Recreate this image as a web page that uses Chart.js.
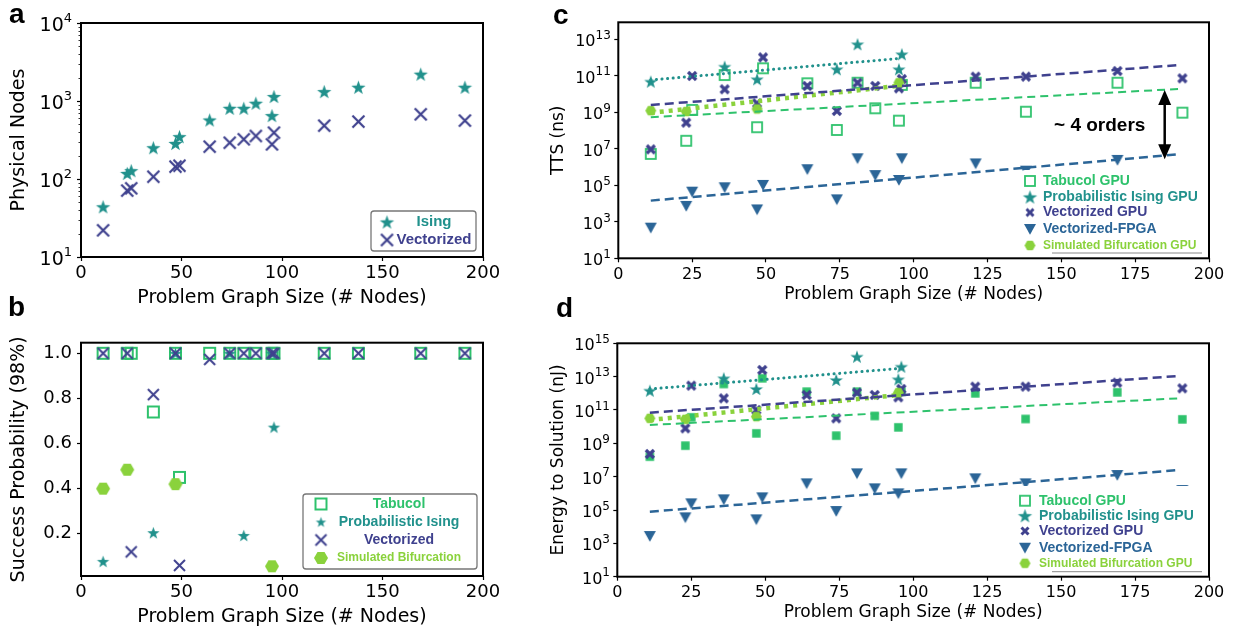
<!DOCTYPE html>
<html>
<head>
<meta charset="utf-8">
<title>Graph size benchmarks</title>
<script src="https://cdn.jsdelivr.net/npm/chart.js@4.4.1/dist/chart.umd.min.js"></script>
<style>
  html, body { margin: 0; padding: 0; background: #fff; }
  #painel { position: relative; width: 1234px; height: 630px; overflow: hidden; }
  #painel canvas { position: absolute; }
  .letra { position: absolute; font: bold 28px "Liberation Sans", Arial, sans-serif; line-height: 1; color: #000; }
</style>
</head>
<body>
<div id="painel">
  <canvas id="graficoA" width="540" height="310" style="left:0;top:0"></canvas>
  <canvas id="graficoB" width="540" height="320" style="left:0;top:310px"></canvas>
  <canvas id="graficoC" width="694" height="310" style="left:540px;top:0"></canvas>
  <canvas id="graficoD" width="694" height="320" style="left:540px;top:310px"></canvas>
  <div class="letra" style="left:9px;top:0px">a</div>
  <div class="letra" style="left:8px;top:293px">b</div>
  <div class="letra" style="left:553px;top:1px">c</div>
  <div class="letra" style="left:556px;top:294px">d</div>
</div>
<script>
// tamanhos de grafo (# nos) usados nos testes
const nos = [11, 23, 25, 36, 47, 49, 64, 74, 81, 87, 95, 96, 121, 138, 169, 191];
const nosIsing = [11, 36, 47, 74, 81, 95, 96];
const nosSB = [11, 23, 47, 95];
const nosAjuste = [11, 190];
const nosAjusteIsing = [11, 96];
const nosAjusteSB = [11, 95];

// (a) nos fisicos
const fisicosIsing = [44, 118, 128, 252, 286, 349, 571, 807, 807, 936, 650, 1141, 1321, 1503, 2207, 1503];
const fisicosVetor = [22, 71, 76, 107, 144, 148, 260, 292, 323, 356, 278, 393, 483, 544, 676, 561];

// (b) probabilidade de sucesso
const sucessoTabucol = [1, 1, 1, 0.74, 1, 0.45, 1, 1, 1, 1, 1, 1, 1, 1, 1, 1];
const sucessoVetor = [1, 1, 0.12, 0.817, 1, 0.06, 0.973, 1, 1, 1, 1, 1, 1, 1, 1, 1];
const sucessoIsing = [0.078, 0.205, 1, 1, 0.193, 1, 0.673];
const sucessoSB = [0.40, 0.484, 0.42, 0.056];

// (c) TTS em ns, guardado como log10
const log10TtsTabucol = [6.72, 7.44, 9.13, 11.04, 8.18, 11.41, 10.59, 8.03, 10.62, 9.22, 8.54, 10.5, 10.62, 9.03, 10.62, 8.98];
const log10TtsVetor = [6.97, 8.43, 10.99, 10.26, 9.49, 12.01, 10.44, 9.07, 10.62, 10.44, 10.31, 10.82, 10.95, 10.95, 11.26, 10.86];
const log10TtsFpga = [2.68, 3.87, 4.65, 4.89, 3.68, 5.02, 5.88, 4.23, 6.48, 5.56, 5.29, 6.48, 6.2, 5.8, 6.39, 5.3];
const log10TtsIsing = [10.68, 11.5, 10.81, 11.36, 12.73, 11.36, 12.18];
const log10TtsSB = [9.09, 9.04, 9.18, 10.62];
const ajusteTtsTabucol = [8.73, 10.28];
const ajusteTtsVetor = [9.40, 11.59];
const ajusteTtsFpga = [4.16, 6.70];
const ajusteTtsIsing = [10.77, 11.96];
const ajusteTtsSB = [8.97, 10.45];

// (d) energia ate a solucao em nJ, log10
const log10EnergiaTabucol = [8.2, 8.86, 10.56, 12.56, 9.6, 12.9, 12.1, 9.46, 12.1, 10.64, 9.96, 12.1, 12.0, 10.46, 12.06, 10.44];
const log10EnergiaVetor = [8.36, 9.9, 12.46, 11.7, 11.0, 13.4, 11.9, 10.5, 12.04, 11.9, 11.76, 12.26, 12.4, 12.4, 12.64, 12.3];
const log10EnergiaFpga = [3.44, 4.56, 5.4, 5.64, 4.44, 5.76, 6.6, 4.94, 7.2, 6.3, 6.0, 7.2, 6.9, 6.6, 7.1, 6.2];
const log10EnergiaIsing = [12.16, 12.9, 12.26, 12.8, 14.2, 12.84, 13.6];
const log10EnergiaSB = [10.5, 10.44, 10.6, 12.04];
const ajusteEnergiaTabucol = [10.10, 11.70];
const ajusteEnergiaVetor = [10.84, 13.04];
const ajusteEnergiaFpga = [4.90, 7.40];
const ajusteEnergiaIsing = [12.26, 13.50];
const ajusteEnergiaSB = [10.40, 11.90];

// marcas dos eixos
const marcasFisicos = [1e1, 1e2, 1e3, 1e4];
const marcasSucesso = [0.2, 0.4, 0.6, 0.8, 1.0];
const marcasTts = [1e1, 1e3, 1e5, 1e7, 1e9, 1e11, 1e13];
const marcasEnergia = [1e1, 1e3, 1e5, 1e7, 1e9, 1e11, 1e13, 1e15];

const rotulosA = ['Ising', 'Vectorized'];
const rotulosB = ['Tabucol', 'Probabilistic Ising', 'Vectorized', 'Simulated Bifurcation'];
const rotulosCD = ['Tabucol GPU', 'Probabilistic Ising GPU', 'Vectorized GPU', 'Vectorized-FPGA', 'Simulated Bifurcation GPU'];

const corTabucol = '#2ec26c';
const corIsing = '#21918c';
const corVetor = '#3f418e';
const corFpga = '#2b6597';
const corSB = '#8ad23c';
const fonteEixo = '"DejaVu Sans"';
const fonteLegenda = '"Liberation Sans", Arial, sans-serif';

window.onload = function () {
    Chart.defaults.animation = false;
    Chart.defaults.events = [];
    gerarGraficoFisicos();
    gerarGraficoSucesso();
    gerarGraficoTts();
    gerarGraficoEnergia();
};

function pontos(xs, ys) {
    return xs.map((x, i) => ({ x: x, y: ys[i] }));
}
function pontosLog(xs, expoentes) {
    return xs.map((x, i) => ({ x: x, y: Math.pow(10, expoentes[i]) }));
}

// desenha o marcador num canvas pequeno, usado como pointStyle
function marcador(forma, tam, cor, cheio, lw) {
    lw = lw || 1.5;
    let lado = Math.ceil(tam + lw + 2);
    let c = document.createElement('canvas');
    c.width = lado;
    c.height = lado;
    let ctx = c.getContext('2d');
    ctx.translate(lado / 2, lado / 2);
    ctx.fillStyle = cor;
    ctx.strokeStyle = cor;
    ctx.lineWidth = lw;
    let r = tam / 2;
    ctx.beginPath();
    if (forma === 'estrela') {
        for (let i = 0; i < 10; i++) {
            let raio = i % 2 === 0 ? r : r * 0.4;
            let ang = -Math.PI / 2 + i * Math.PI / 5;
            ctx.lineTo(raio * Math.cos(ang), raio * Math.sin(ang) + r * 0.1);
        }
        ctx.closePath();
        ctx.fill();
    } else if (forma === 'x') {
        ctx.moveTo(-r, -r); ctx.lineTo(r, r);
        ctx.moveTo(r, -r); ctx.lineTo(-r, r);
        ctx.stroke();
    } else if (forma === 'quadrado') {
        if (cheio) ctx.fillRect(-r, -r, tam, tam);
        else ctx.strokeRect(-r, -r, tam, tam);
    } else if (forma === 'triangulo') {
        ctx.moveTo(-r, -r * 0.85);
        ctx.lineTo(r, -r * 0.85);
        ctx.lineTo(0, r * 0.95);
        ctx.closePath();
        ctx.fill();
    } else if (forma === 'hexagono') {
        for (let i = 0; i < 6; i++) {
            let ang = i * Math.PI / 3;
            ctx.lineTo(r * Math.cos(ang), r * Math.sin(ang));
        }
        ctx.closePath();
        ctx.fill();
    }
    return c;
}

function serie(rotulo, dados, simbolo, ordem) {
    return {
        label: rotulo,
        data: dados,
        pointStyle: simbolo,
        pointRadius: 5,
        showLine: false,
        order: ordem
    };
}
function ajuste(dados, cor, largura, tracejado, ponta) {
    return {
        data: dados,
        showLine: true,
        pointRadius: 0,
        borderColor: cor,
        borderWidth: largura,
        borderDash: tracejado,
        borderCapStyle: ponta || 'butt',
        fill: false,
        order: 0
    };
}

function eixoX(altura, passo, tamFonte, tamTitulo, padTick, padTitulo) {
    return {
        type: 'linear', position: 'bottom', min: 0, max: 200,
        afterFit: function (escala) { escala.height = altura; },
        ticks: {
            stepSize: passo, color: '#000', padding: padTick, maxRotation: 0, autoSkip: false,
            font: { family: fonteEixo, size: tamFonte }
        },
        grid: { drawOnChartArea: false, drawTicks: true, tickLength: 4, tickWidth: 1.2, tickColor: '#000' },
        border: { display: false },
        title: {
            display: true, text: 'Problem Graph Size (# Nodes)', color: '#000',
            font: { family: fonteEixo, size: tamTitulo }, padding: { top: 0, bottom: padTitulo }
        }
    };
}
function eixoY(tipo, largura, min, max, marcas, titulo, tamFonte, tamTitulo, padTick, padTitulo) {
    // no eixo log os rotulos 10^n sao desenhados pelo pluginRotulosLog
    let log = tipo === 'logarithmic';
    return {
        type: tipo, position: 'left', min: min, max: max,
        afterFit: function (escala) { escala.width = largura; },
        afterBuildTicks: function (escala) { escala.ticks = marcas.map(v => ({ value: v })); },
        ticks: {
            display: !log, color: '#000', padding: padTick, autoSkip: false,
            callback: v => v.toFixed(1),
            font: { family: fonteEixo, size: tamFonte }
        },
        grid: { drawOnChartArea: false, drawTicks: true, tickLength: 4, tickWidth: 1.2, tickColor: '#000' },
        border: { display: false },
        title: {
            display: true, text: titulo, color: '#000',
            font: { family: fonteEixo, size: tamTitulo }, padding: { top: padTitulo, bottom: 0 }
        }
    };
}

// rotulos 10^n com expoente sobrescrito
function pluginRotulosLog(marcas, tamBase, tamExp, recuo) {
    return {
        id: 'rotulosLog',
        afterDraw(chart) {
            let ctx = chart.ctx, y = chart.scales.y;
            let xDir = chart.chartArea.left - recuo;
            ctx.save();
            ctx.fillStyle = '#000';
            ctx.textAlign = 'right';
            ctx.textBaseline = 'alphabetic';
            for (let v of marcas) {
                let e = String(Math.round(Math.log10(v)));
                let base = y.getPixelForValue(v) + 0.37 * tamBase + 1;
                ctx.font = tamExp + 'px ' + fonteEixo;
                ctx.fillText(e, xDir, base - 0.45 * tamBase);
                let largExp = ctx.measureText(e).width;
                ctx.font = tamBase + 'px ' + fonteEixo;
                ctx.fillText('10', xDir - largExp, base);
            }
            ctx.restore();
        }
    };
}

// moldura preta em volta da area do grafico
const pluginMoldura = {
    id: 'moldura',
    afterDraw(chart) {
        let a = chart.chartArea;
        let ctx = chart.ctx;
        ctx.save();
        ctx.strokeStyle = '#000';
        ctx.lineWidth = 2;
        ctx.strokeRect(a.left, a.top, a.right - a.left, a.bottom - a.top);
        ctx.restore();
    }
};

// marcas menores do eixo log (so no painel a)
const pluginMarcasMenores = {
    id: 'marcasMenores',
    afterDraw(chart) {
        let y = chart.scales.y;
        let ctx = chart.ctx;
        ctx.save();
        ctx.strokeStyle = '#000';
        ctx.lineWidth = 0.8;
        for (let d = 1; d < 4; d++) {
            for (let m = 2; m < 10; m++) {
                let py = Math.round(y.getPixelForValue(m * Math.pow(10, d))) + 0.5;
                ctx.beginPath();
                ctx.moveTo(chart.chartArea.left - 2.5, py);
                ctx.lineTo(chart.chartArea.left, py);
                ctx.stroke();
            }
        }
        ctx.restore();
    }
};

function pluginLegenda(def) {
    return {
        id: 'legenda',
        afterDatasetsDraw(chart) {
            let ctx = chart.ctx;
            ctx.save();
            if (def.caixa) {
                let c = def.caixa;
                ctx.fillStyle = '#fff';
                ctx.beginPath();
                ctx.roundRect(c.x, c.y, c.w, c.h, 3);
                ctx.fill();
                if (c.borda) {
                    ctx.strokeStyle = c.borda;
                    ctx.lineWidth = 1.3;
                    ctx.stroke();
                }
            }
            if (def.linha) {
                ctx.strokeStyle = '#888';
                ctx.lineWidth = 1;
                ctx.beginPath();
                ctx.moveTo(def.linha.x1, def.linha.y);
                ctx.lineTo(def.linha.x2, def.linha.y);
                ctx.stroke();
            }
            ctx.textAlign = def.alinhamento;
            ctx.textBaseline = 'middle';
            for (let item of def.itens) {
                let m = item.marcador;
                ctx.drawImage(m, def.xMarcador - m.width / 2, item.y - m.height / 2);
                ctx.font = item.fonte;
                ctx.fillStyle = item.cor;
                ctx.fillText(item.texto, def.xTexto, item.y);
            }
            ctx.restore();
        }
    };
}

function gerarGraficoFisicos() {
    let estrela = marcador('estrela', 15, corIsing);
    let xis = marcador('x', 12, corVetor, false, 2.2);
    new Chart(document.getElementById('graficoA'), {
        type: 'scatter',
        data: {
            datasets: [
                serie(rotulosA[0], pontos(nos, fisicosIsing), estrela, 2),
                serie(rotulosA[1], pontos(nos, fisicosVetor), xis, 1)
            ]
        },
        options: {
            responsive: false,
            layout: { padding: { left: 0, top: 23, right: 57, bottom: 0 } },
            plugins: { legend: { display: false }, tooltip: { enabled: false } },
            scales: {
                x: eixoX(53, 50, 18, 19, 2, 1),
                y: eixoY('logarithmic', 81, 10, 10000, marcasFisicos, 'Physical Nodes', 18, 19, 5, 8)
            }
        },
        plugins: [pluginMarcasMenores, pluginRotulosLog(marcasFisicos, 19, 13, 9), pluginLegenda({
            caixa: { x: 371, y: 211, w: 105, h: 40, borda: '#777' },
            alinhamento: 'center', xMarcador: 387, xTexto: 434,
            itens: [
                { marcador: estrela, texto: rotulosA[0], cor: corIsing, y: 222, fonte: 'bold 15px ' + fonteLegenda },
                { marcador: xis, texto: rotulosA[1], cor: corVetor, y: 240, fonte: 'bold 15px ' + fonteLegenda }
            ]
        }), pluginMoldura]
    });
}

function gerarGraficoSucesso() {
    let quadrado = marcador('quadrado', 11, corTabucol, false, 2);
    let estrela = marcador('estrela', 13, corIsing);
    let xis = marcador('x', 11, corVetor, false, 2);
    let hexagono = marcador('hexagono', 14, corSB);
    new Chart(document.getElementById('graficoB'), {
        type: 'scatter',
        data: {
            datasets: [
                serie(rotulosB[0], pontos(nos, sucessoTabucol), quadrado, 4),
                serie(rotulosB[1], pontos(nosIsing, sucessoIsing), estrela, 3),
                serie(rotulosB[2], pontos(nos, sucessoVetor), xis, 2),
                serie(rotulosB[3], pontos(nosSB, sucessoSB), hexagono, 1)
            ]
        },
        options: {
            responsive: false,
            layout: { padding: { left: 0, top: 32.7, right: 57, bottom: 0 } },
            plugins: { legend: { display: false }, tooltip: { enabled: false } },
            scales: {
                x: eixoX(54, 50, 18, 19, 2, 2),
                y: eixoY('linear', 81, 0.013, 1.047, marcasSucesso, 'Success Probability (98%)', 18, 19, 5, 8)
            }
        },
        plugins: [pluginLegenda({
            caixa: { x: 303, y: 184, w: 174, h: 75, borda: '#777' },
            alinhamento: 'center', xMarcador: 321, xTexto: 399,
            itens: [
                { marcador: quadrado, texto: rotulosB[0], cor: corTabucol, y: 194, fonte: 'bold 14px ' + fonteLegenda },
                { marcador: marcador('estrela', 11, corIsing), texto: rotulosB[1], cor: corIsing, y: 212, fonte: 'bold 14px ' + fonteLegenda },
                { marcador: xis, texto: rotulosB[2], cor: corVetor, y: 230, fonte: 'bold 14px ' + fonteLegenda },
                { marcador: hexagono, texto: rotulosB[3], cor: corSB, y: 248, fonte: 'bold 12px ' + fonteLegenda }
            ]
        }), pluginMoldura]
    });
}

// seta dupla "~ 4 orders" entre os ajustes da GPU e da FPGA
const pluginOrdens = {
    id: 'ordens',
    afterDatasetsDraw(chart) {
        let ctx = chart.ctx, x = chart.scales.x, y = chart.scales.y;
        let px = x.getPixelForValue(185);
        let y1 = y.getPixelForValue(Math.pow(10, 10.22));
        let y2 = y.getPixelForValue(Math.pow(10, 6.42));
        let cabeca = 15, meia = 6.5;
        ctx.save();
        ctx.strokeStyle = '#000';
        ctx.fillStyle = '#000';
        ctx.lineWidth = 2.5;
        ctx.beginPath();
        ctx.moveTo(px, y1 + cabeca - 2);
        ctx.lineTo(px, y2 - cabeca + 2);
        ctx.stroke();
        ctx.beginPath();
        ctx.moveTo(px, y1);
        ctx.lineTo(px - meia, y1 + cabeca);
        ctx.lineTo(px + meia, y1 + cabeca);
        ctx.closePath();
        ctx.fill();
        ctx.beginPath();
        ctx.moveTo(px, y2);
        ctx.lineTo(px - meia, y2 - cabeca);
        ctx.lineTo(px + meia, y2 - cabeca);
        ctx.closePath();
        ctx.fill();
        ctx.font = 'bold 19px ' + fonteLegenda;
        ctx.textAlign = 'center';
        ctx.textBaseline = 'middle';
        ctx.fillText('~ 4 orders', x.getPixelForValue(163), y.getPixelForValue(Math.pow(10, 8.25)));
        ctx.restore();
    }
};

function datasetsGpu(rotulos, tabucol, ising, vetor, fpga, sb, ajustes, quadradoCheio) {
    let quadrado = marcador('quadrado', quadradoCheio ? 8.5 : 10, corTabucol, quadradoCheio, 1.8);
    let estrela = marcador('estrela', 14, corIsing);
    let xis = marcador('x', 8, corVetor, false, 3.2);
    let triangulo = marcador('triangulo', 12, corFpga);
    let hexagono = marcador('hexagono', 11, corSB);
    return [
        serie(rotulos[0], pontosLog(nos, tabucol), quadrado, 5),
        serie(rotulos[1], pontosLog(nosIsing, ising), estrela, 4),
        serie(rotulos[2], pontosLog(nos, vetor), xis, 3),
        serie(rotulos[3], pontosLog(nos, fpga), triangulo, 2),
        serie(rotulos[4], pontosLog(nosSB, sb), hexagono, 1),
        ajuste(pontosLog(nosAjuste, ajustes[0]), corTabucol, 2, [8, 5]),
        ajuste(pontosLog(nosAjuste, ajustes[1]), corVetor, 2.5, [9, 5]),
        ajuste(pontosLog(nosAjuste, ajustes[2]), corFpga, 2.5, [9, 5]),
        ajuste(pontosLog(nosAjusteIsing, ajustes[3]), corIsing, 3, [0.1, 5.5], 'round'),
        ajuste(pontosLog(nosAjusteSB, ajustes[4]), corSB, 4.5, [4, 5])
    ];
}

function legendaGpu(xMarcador, xTexto, ys, caixa, linha) {
    let cores = [corTabucol, corIsing, corVetor, corFpga, corSB];
    let marcas = [
        marcador('quadrado', 10, corTabucol, false, 1.8),
        marcador('estrela', 15, corIsing),
        marcador('x', 7, corVetor, false, 3),
        marcador('triangulo', 12, corFpga),
        marcador('hexagono', 11, corSB)
    ];
    return pluginLegenda({
        caixa: caixa, linha: linha, alinhamento: 'left', xMarcador: xMarcador, xTexto: xTexto,
        itens: rotulosCD.map((t, i) => ({
            marcador: marcas[i], texto: t, cor: cores[i], y: ys[i],
            fonte: 'bold ' + (i === 4 ? 12 : 14) + 'px ' + fonteLegenda
        }))
    });
}

function gerarGraficoTts() {
    new Chart(document.getElementById('graficoC'), {
        type: 'scatter',
        data: {
            datasets: datasetsGpu(rotulosCD, log10TtsTabucol, log10TtsIsing, log10TtsVetor, log10TtsFpga, log10TtsSB,
                [ajusteTtsTabucol, ajusteTtsVetor, ajusteTtsFpga, ajusteTtsIsing, ajusteTtsSB], false)
        },
        options: {
            responsive: false,
            layout: { padding: { left: 0, top: 22.3, right: 25, bottom: 0 } },
            plugins: { legend: { display: false }, tooltip: { enabled: false } },
            scales: {
                x: eixoX(51.7, 25, 16, 17, 3, 5),
                y: eixoY('logarithmic', 78.3, 10, 8.5e13, marcasTts, 'TTS (ns)', 16, 17, 4, 8)
            }
        },
        plugins: [pluginRotulosLog(marcasTts, 16, 12, 7.5), legendaGpu(490, 503, [181, 197, 212.5, 229, 245.5],
            { x: 482, y: 170, w: 185, h: 83 }, { x1: 512, x2: 662, y: 253 }), pluginOrdens, pluginMoldura]
    });
}

function gerarGraficoEnergia() {
    new Chart(document.getElementById('graficoD'), {
        type: 'scatter',
        data: {
            datasets: datasetsGpu(rotulosCD, log10EnergiaTabucol, log10EnergiaIsing, log10EnergiaVetor, log10EnergiaFpga, log10EnergiaSB,
                [ajusteEnergiaTabucol, ajusteEnergiaVetor, ajusteEnergiaFpga, ajusteEnergiaIsing, ajusteEnergiaSB], true)
        },
        options: {
            responsive: false,
            layout: { padding: { left: 0, top: 33.3, right: 25, bottom: 0 } },
            plugins: { legend: { display: false }, tooltip: { enabled: false } },
            scales: {
                x: eixoX(53.3, 25, 16, 17, 3, 7),
                y: eixoY('logarithmic', 77.3, 10, 1e15, marcasEnergia, 'Energy to Solution (nJ)', 16, 17, 4, 8.3)
            }
        },
        plugins: [pluginRotulosLog(marcasEnergia, 16, 12, 7.3), legendaGpu(485, 499, [190.7, 205.7, 221, 237.7, 253.3],
            { x: 477, y: 176, w: 190, h: 86 }, { x1: 512, x2: 662, y: 261.7 }), pluginMoldura]
    });
}
</script>
</body>
</html>
